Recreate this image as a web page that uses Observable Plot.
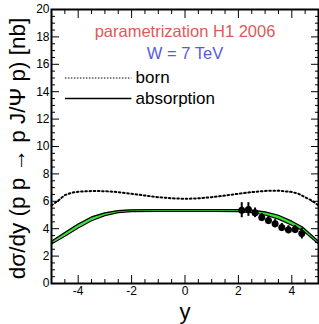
<!DOCTYPE html>
<html><head><meta charset="utf-8">
<script src="https://cdn.jsdelivr.net/npm/d3@7"></script>
<script src="https://cdn.jsdelivr.net/npm/@observablehq/plot@0.6"></script>
<style>body{margin:0;background:#fff} svg{display:block}</style>
</head><body><div id="chart"></div>
<script>
// Born (no absorption) curve, dotted
const bornX = [-5, -4.75, -4.5, -4.25, -4, -3.5, -3, -2.5, -2, -1.5, -1, -0.5, 0, 0.5, 1, 1.5, 2, 2.5, 3, 3.5, 4, 4.25, 4.5, 4.75, 5];
const bornY = [5.7, 6.05, 6.45, 6.62, 6.7, 6.75, 6.74, 6.67, 6.55, 6.42, 6.3, 6.22, 6.18, 6.22, 6.3, 6.42, 6.55, 6.67, 6.76, 6.78, 6.68, 6.55, 6.3, 6.05, 5.7];
// Absorption band (lower / upper edges)
const absX    = [-5, -4.5, -4, -3.5, -3, -2.5, -2, -1, 0, 1, 2, 2.5, 3, 3.5, 4, 4.4, 5];
const absLow  = [2.88, 3.45, 4.05, 4.58, 4.95, 5.17, 5.24, 5.26, 5.26, 5.26, 5.25, 5.18, 5.0, 4.7, 4.25, 3.88, 2.88];
const absHigh = [3.08, 3.72, 4.34, 4.86, 5.16, 5.32, 5.38, 5.4, 5.4, 5.4, 5.39, 5.35, 5.23, 4.98, 4.55, 4.12, 3.08];
// Data points
const dataX   = [2.125, 2.375, 2.625, 2.875, 3.125, 3.375, 3.625, 3.875, 4.125, 4.375];
const dataY   = [5.35, 5.4, 5.16, 4.82, 4.6, 4.36, 4.09, 3.92, 3.94, 3.65];
const dataErr = [0.55, 0.5, 0.35, 0.3, 0.3, 0.3, 0.3, 0.3, 0.3, 0.4];
// Ticks
const xMajor = [-4, -2, 0, 2, 4];
const xMinor = [-4.5, -3.5, -3, -2.5, -1.5, -1, -0.5, 0.5, 1, 1.5, 2.5, 3, 3.5, 4.5];
const yMajor = [0, 2, 4, 6, 8, 10, 12, 14, 16, 18, 20];
const yMinor = [0.5, 1, 1.5, 2.5, 3, 3.5, 4.5, 5, 5.5, 6.5, 7, 7.5, 8.5, 9, 9.5, 10.5, 11, 11.5, 12.5, 13, 13.5, 14.5, 15, 15.5, 16.5, 17, 17.5, 18.5, 19, 19.5];
// Texts
const titleLines = ["parametrization H1 2006", "W = 7 TeV"];
const legendLabels = ["born", "absorption"];
const xLabel = "y";
const yLabel = "dσ/dy (p p → p J/Ψ p) [nb]";

const abs = absX.map((x, i) => ({x, lo: absLow[i], hi: absHigh[i]}));
const born = bornX.map((x, i) => ({x, y: bornY[i]}));
const pts = dataX.map((x, i) => ({x, y: dataY[i], e: dataErr[i]}));

const tickMarks = [];
for (const [anchor, ax] of [["bottom", "x"], ["top", "x"], ["left", "y"], ["right", "y"]]) {
  const f = ax === "x" ? Plot.axisX : Plot.axisY;
  tickMarks.push(f({anchor, ticks: ax === "x" ? xMajor : yMajor, tickSize: -8, tickFormat: () => "", label: null, strokeWidth: 1}));
  tickMarks.push(f({anchor, ticks: ax === "x" ? xMinor : yMinor, tickSize: -4, tickFormat: () => "", label: null, strokeWidth: 1}));
}

const green = "#33e033";
const chart = Plot.plot({
  width: 319, height: 324,
  marginLeft: 51, marginRight: 1, marginTop: 9, marginBottom: 41,
  x: {domain: [-5, 5]},
  y: {domain: [0, 20]},
  style: {fontFamily: "'Liberation Sans', Arial, Helvetica, sans-serif", background: "white", color: "black"},
  marks: [
    Plot.areaY(abs, {x: "x", y1: "lo", y2: "hi", fill: green}),
    Plot.line(abs, {x: "x", y: "lo", stroke: "black", strokeWidth: 1.2}),
    Plot.line(abs, {x: "x", y: "hi", stroke: "black", strokeWidth: 1.2}),
    Plot.line(born, {x: "x", y: "y", stroke: "black", strokeWidth: 2, strokeDasharray: "1.6,2.6"}),
    Plot.ruleX(pts, {x: "x", y1: d => d.y - d.e, y2: d => d.y + d.e, stroke: "black", strokeWidth: 2}),
    Plot.dot(pts, {x: "x", y: "y", r: 3.5, fill: "black"}),
    // legend
    Plot.ruleY([15], {x1: -4.48, x2: -1.99, stroke: "black", strokeWidth: 1.2, strokeDasharray: "1.5,1.5"}),
    Plot.ruleY([13.5], {x1: -4.48, x2: -1.99, stroke: "black", strokeWidth: 1.5}),
    Plot.text([legendLabels[0]], {x: -1.85, y: 15, text: d => d, textAnchor: "start", lineAnchor: "middle", fontSize: 17}),
    Plot.text([legendLabels[1]], {x: -1.85, y: 13.5, text: d => d, textAnchor: "start", lineAnchor: "middle", fontSize: 17}),
    // titles
    Plot.text([titleLines[0]], {frameAnchor: "top", dy: 22.5, lineAnchor: "middle", textAnchor: "middle", text: d => d, fontSize: 16.5, fill: "#dc5a5a"}),
    Plot.text([titleLines[1]], {frameAnchor: "top", dy: 44, lineAnchor: "middle", textAnchor: "middle", text: d => d, fontSize: 16.5, fill: "#5a5adc"}),
    // axis titles
    Plot.text([xLabel], {frameAnchor: "bottom", dy: 28.5, lineAnchor: "middle", textAnchor: "middle", text: d => d, fontSize: 22}),
    Plot.text([yLabel], {frameAnchor: "left", dx: -34, dy: 2, rotate: -90, lineAnchor: "middle", textAnchor: "middle", text: d => d, fontSize: 22.5}),
    ...tickMarks,
    Plot.axisX({anchor: "bottom", ticks: xMajor, tickSize: 0, tickPadding: 3, tickFormat: d => String(d), label: null, fontSize: 12}),
    Plot.axisY({anchor: "left", ticks: yMajor, tickSize: 0, tickPadding: 2, tickFormat: d => String(d), label: null, fontSize: 12}),
    Plot.frame({stroke: "black", strokeWidth: 2})
  ]
});
document.getElementById("chart").appendChild(chart);
</script>
</body></html>
